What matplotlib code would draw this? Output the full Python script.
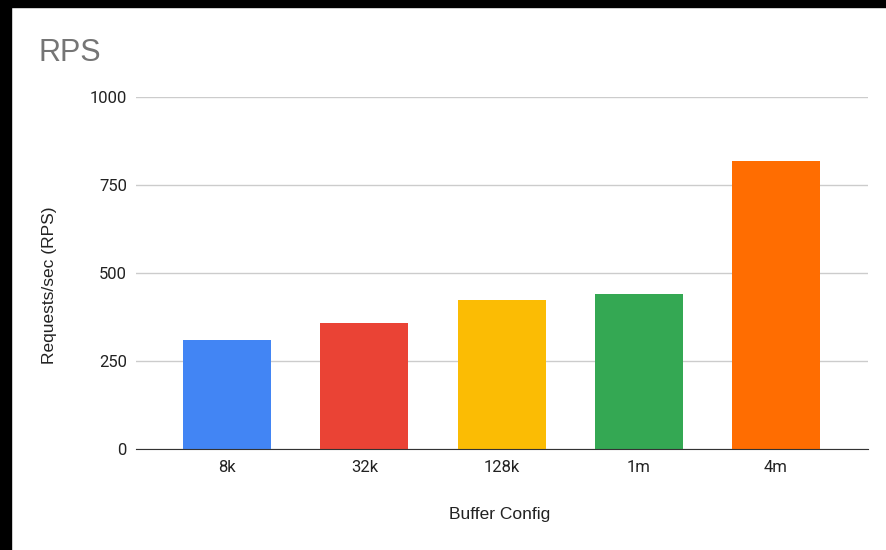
import matplotlib.pyplot as plt
from matplotlib.patches import Rectangle

# datos
configs = ["8k", "32k", "128k", "1m", "4m"]
rps = [310, 358, 423, 440, 818]
colores = ["#4285F4", "#EA4335", "#FBBC04", "#34A853", "#FF6D01"]
yticks = [0, 250, 500, 750, 1000]

plt.rcParams['font.family'] = ['Roboto', 'DejaVu Sans']

W, H = 887, 550
fig = plt.figure(figsize=(W / 100, H / 100), dpi=100)
ax = fig.add_axes([136 / W, 1 - 449 / H, (868 - 136) / W, (449 - 97) / H])

ax.bar(range(len(configs)), rps, width=0.64, color=colores, zorder=3)

ax.set_xlim(-0.664, 4.67)
ax.set_ylim(0, 1000)
ax.set_yticks(yticks)
ax.set_yticklabels([str(v) for v in yticks])
ax.set_xticks(range(len(configs)))
ax.set_xticklabels(configs)

ax.grid(axis="y", color="#cccccc", linewidth=1, zorder=0)
for s in ["top", "right", "left"]:
    ax.spines[s].set_visible(False)
ax.spines["bottom"].set_color("#333333")
ax.spines["bottom"].set_zorder(4)
ax.tick_params(axis="both", length=0, labelsize=12, colors="#222222")
ax.tick_params(axis="y", pad=6.5)
ax.tick_params(axis="x", pad=8)

# etiquetas de ejes en posición fija
fig.text(500 / W, 1 - 515 / H, "Buffer Config", fontsize=12.5, color="#222222",
         family="Liberation Sans", ha="center", va="center")
fig.text(50 / W, 1 - 285 / H, "Requests/sec (RPS)", fontsize=12.5, color="#222222",
         family="Liberation Sans", ha="center", va="center", rotation=90)

fig.text(39 / W, 1 - 53 / H, "RPS", fontsize=22, color="#757575",
         family="Liberation Sans", va="center", ha="left")

# marco negro (izquierda y arriba)
fig.add_artist(Rectangle((0, 0), 11 / W, 1, transform=fig.transFigure, color="black", zorder=10))
fig.add_artist(Rectangle((0, 1 - 7 / H), 1, 7 / H, transform=fig.transFigure, color="black", zorder=10))

fig.savefig("out.png", dpi=100, facecolor="white")
